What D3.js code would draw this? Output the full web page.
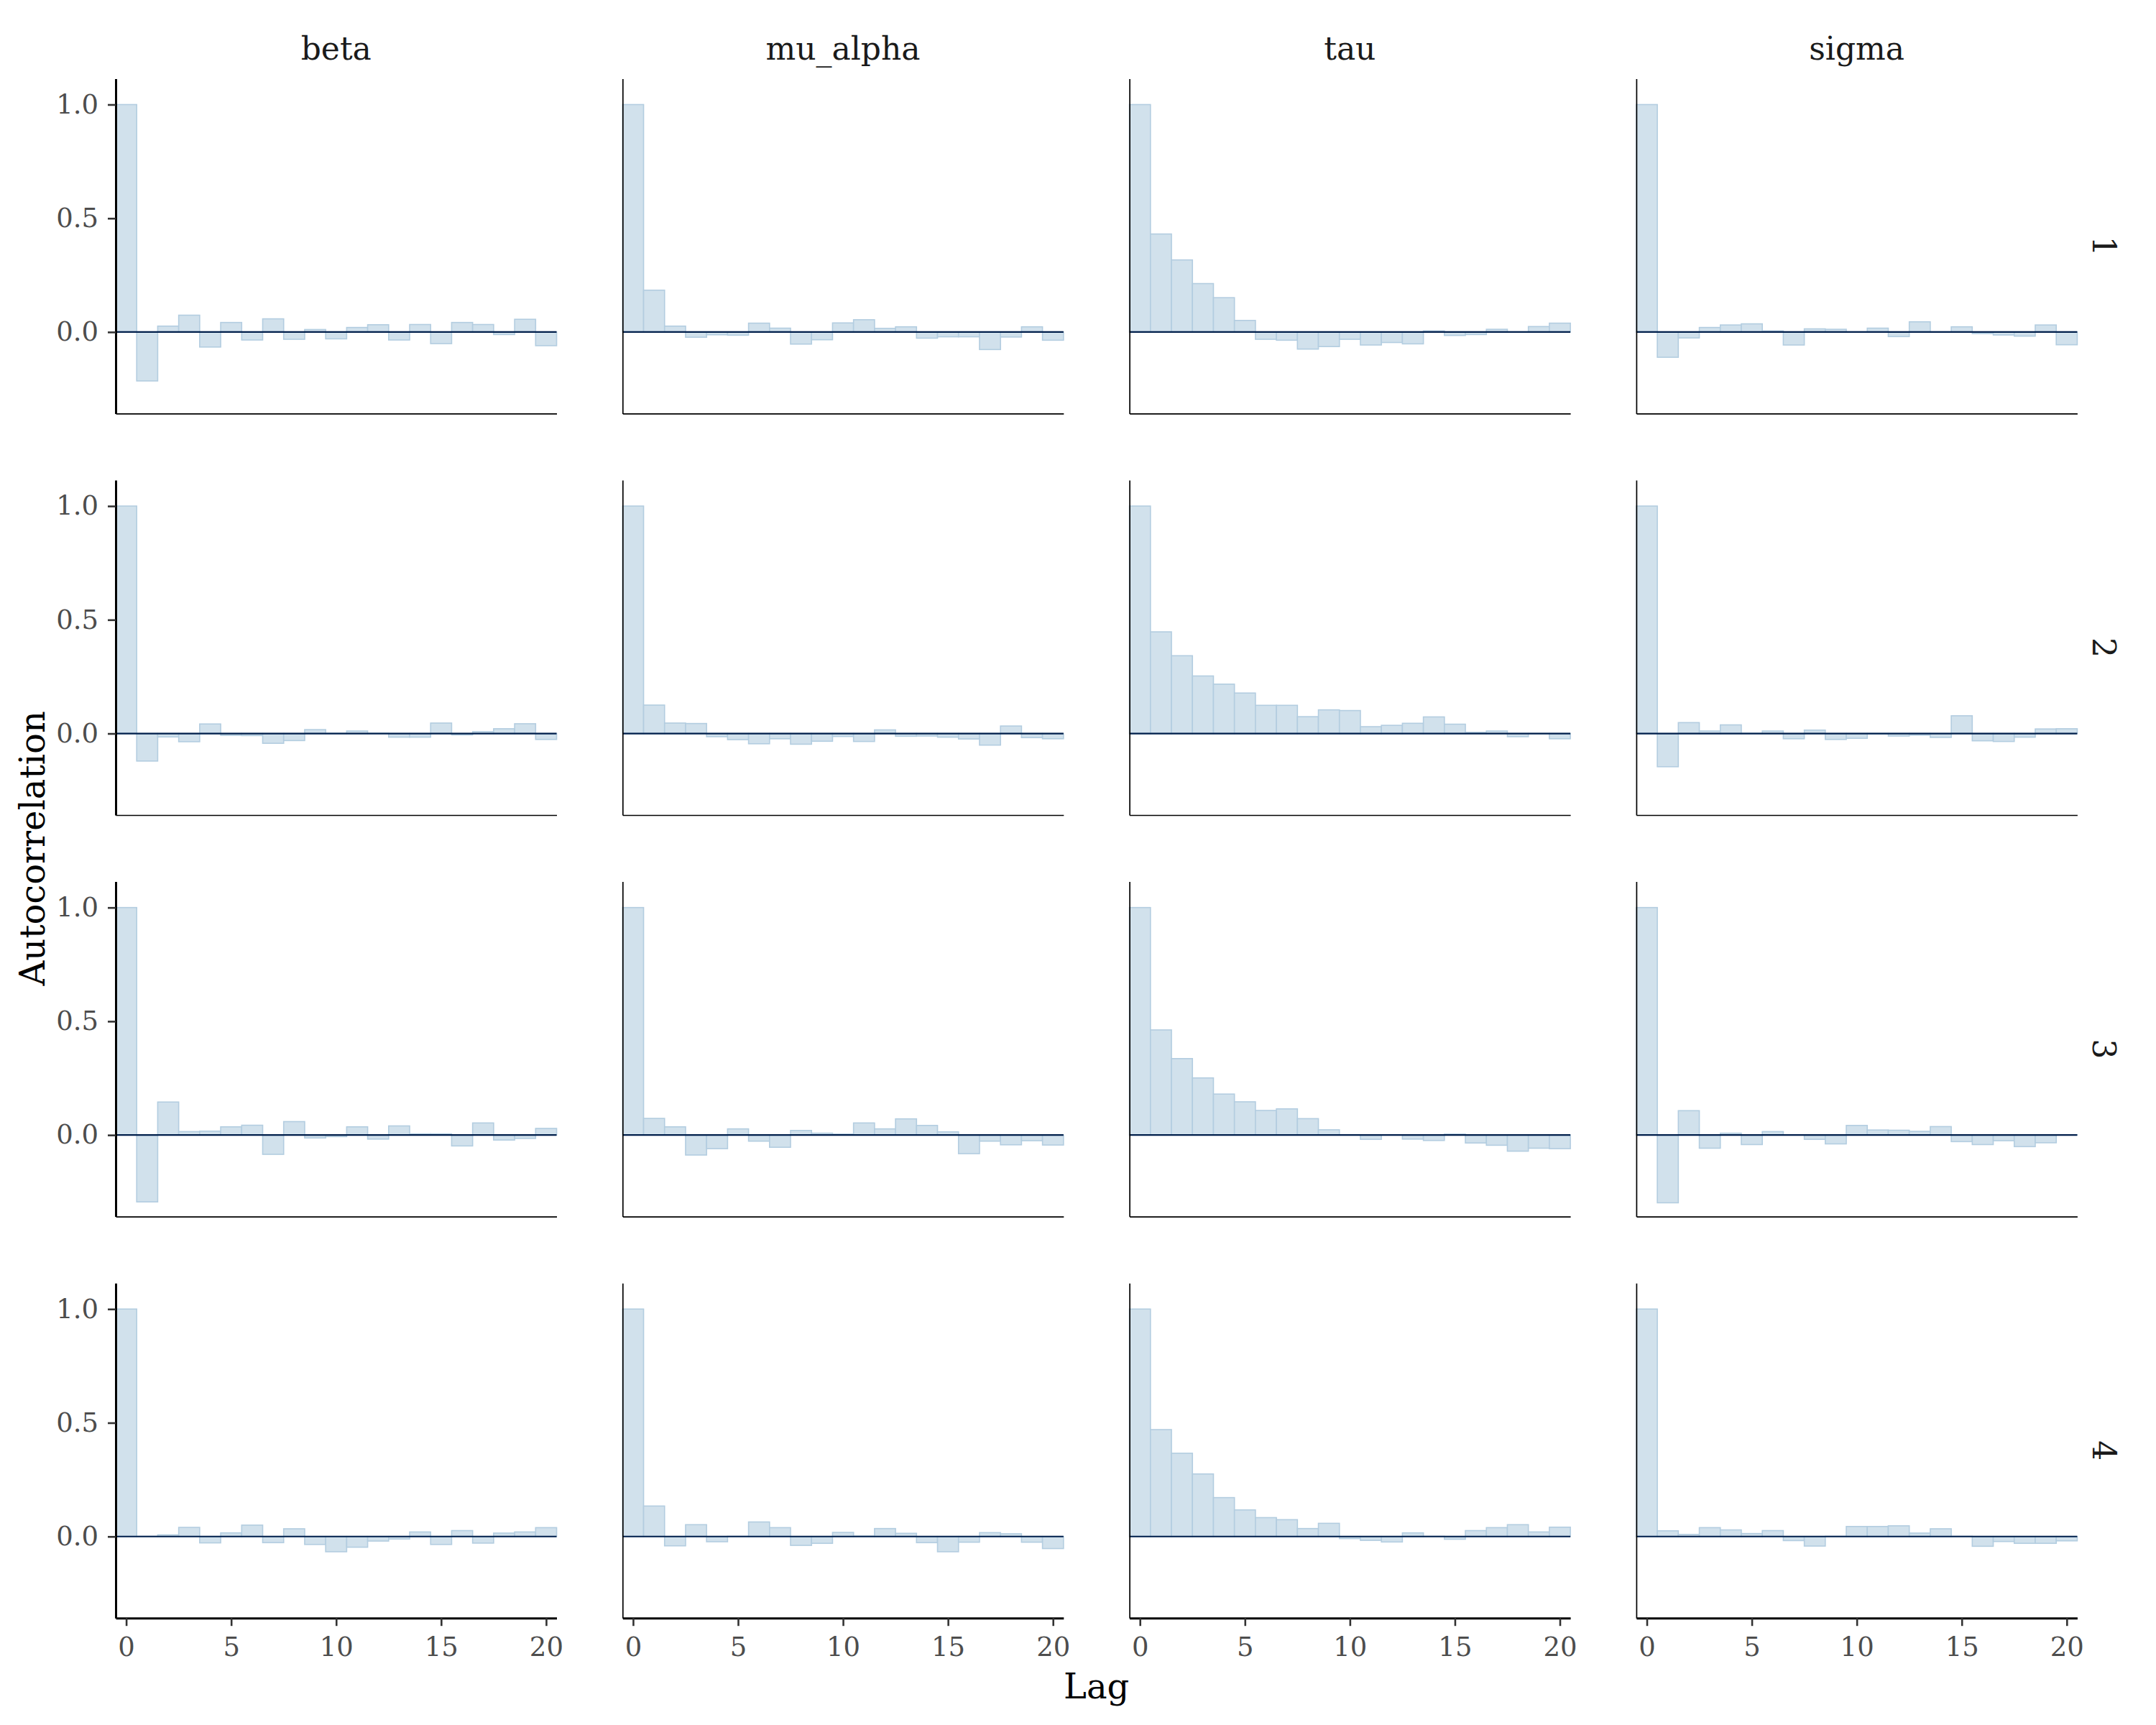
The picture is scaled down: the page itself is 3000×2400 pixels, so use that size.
<!DOCTYPE html>
<html>
<head>
<meta charset="utf-8">
<script src="https://cdn.jsdelivr.net/npm/d3@7/dist/d3.min.js"></script>
<style>
  html, body { margin: 0; padding: 0; background: #ffffff; }
  svg { display: block; }
</style>
</head>
<body>
<svg id="chart" width="3000" height="2400"></svg>
<script>
// ---------------- data ----------------
const parameters = ["beta", "mu_alpha", "tau", "sigma"];
const chains = ["1", "2", "3", "4"];
const lags = d3.range(0, 21);
const yTickValues = [0, 0.5, 1.0];
const xTickValues = [0, 5, 10, 15, 20];
const xTitle = "Lag";
const yTitle = "Autocorrelation";

// autocorrelation per chain (rows) for each parameter (columns), lags 0..20
const acf_beta_1 = [1, -0.215, 0.026, 0.074, -0.066, 0.042, -0.035, 0.058, -0.032, 0.011, -0.030, 0.020, 0.032, -0.035, 0.033, -0.051, 0.042, 0.033, -0.011, 0.056, -0.060];
const acf_beta_2 = [1, -0.121, -0.015, -0.036, 0.042, -0.008, -0.009, -0.043, -0.031, 0.017, 0.001, 0.011, 0.001, -0.016, -0.016, 0.046, -0.006, 0.008, 0.021, 0.043, -0.026];
const acf_beta_3 = [1, -0.294, 0.145, 0.015, 0.017, 0.036, 0.043, -0.085, 0.059, -0.013, -0.007, 0.036, -0.018, 0.040, 0.005, 0.005, -0.048, 0.053, -0.022, -0.015, 0.029];
const acf_beta_4 = [1, 0.001, 0.007, 0.040, -0.028, 0.016, 0.050, -0.027, 0.034, -0.035, -0.067, -0.047, -0.020, -0.011, 0.020, -0.035, 0.026, -0.029, 0.015, 0.020, 0.039];

const acf_mu_alpha_1 = [1, 0.184, 0.026, -0.023, -0.012, -0.014, 0.039, 0.017, -0.053, -0.034, 0.040, 0.054, 0.016, 0.023, -0.027, -0.021, -0.021, -0.077, -0.022, 0.023, -0.036];
const acf_mu_alpha_2 = [1, 0.125, 0.046, 0.044, -0.014, -0.027, -0.045, -0.023, -0.047, -0.034, -0.013, -0.035, 0.016, -0.012, -0.011, -0.016, -0.024, -0.051, 0.033, -0.018, -0.023];
const acf_mu_alpha_3 = [1, 0.073, 0.036, -0.088, -0.060, 0.027, -0.027, -0.054, 0.020, 0.008, 0.004, 0.053, 0.027, 0.071, 0.042, 0.014, -0.082, -0.027, -0.043, -0.025, -0.044];
const acf_mu_alpha_4 = [1, 0.134, -0.041, 0.052, -0.023, 0.001, 0.064, 0.039, -0.039, -0.030, 0.018, 0.002, 0.035, 0.014, -0.027, -0.067, -0.025, 0.017, 0.012, -0.025, -0.053];

const acf_tau_1 = [1, 0.431, 0.317, 0.213, 0.151, 0.051, -0.032, -0.036, -0.075, -0.064, -0.032, -0.057, -0.046, -0.052, 0.005, -0.015, -0.011, 0.012, 0.001, 0.024, 0.039];
const acf_tau_2 = [1, 0.447, 0.342, 0.253, 0.217, 0.178, 0.124, 0.124, 0.074, 0.104, 0.101, 0.030, 0.036, 0.045, 0.073, 0.041, 0.005, 0.011, -0.014, -0.001, -0.023];
const acf_tau_3 = [1, 0.462, 0.336, 0.251, 0.180, 0.146, 0.108, 0.115, 0.072, 0.023, 0.001, -0.019, 0.001, -0.018, -0.024, 0.004, -0.035, -0.045, -0.071, -0.058, -0.060];
const acf_tau_4 = [1, 0.470, 0.366, 0.275, 0.171, 0.117, 0.083, 0.074, 0.035, 0.058, -0.009, -0.017, -0.024, 0.016, 0.001, -0.012, 0.026, 0.039, 0.052, 0.020, 0.041];

const acf_sigma_1 = [1, -0.111, -0.026, 0.020, 0.031, 0.036, 0.005, -0.057, 0.014, 0.012, 0.001, 0.017, -0.020, 0.045, 0.001, 0.023, -0.007, -0.013, -0.018, 0.031, -0.056];
const acf_sigma_2 = [1, -0.146, 0.048, 0.011, 0.038, 0.001, 0.011, -0.023, 0.015, -0.026, -0.021, -0.002, -0.011, -0.007, -0.017, 0.078, -0.032, -0.035, -0.016, 0.020, 0.021];
const acf_sigma_3 = [1, -0.298, 0.107, -0.058, 0.008, -0.042, 0.015, 0.001, -0.019, -0.039, 0.042, 0.022, 0.021, 0.016, 0.037, -0.029, -0.042, -0.025, -0.051, -0.034, 0.001];
const acf_sigma_4 = [1, 0.025, 0.009, 0.039, 0.029, 0.013, 0.026, -0.018, -0.042, 0.001, 0.044, 0.044, 0.047, 0.015, 0.034, 0.001, -0.043, -0.022, -0.030, -0.030, -0.019];

// table built from the arrays above: acfTable[param][chainIndex] = values
const acfTable = {
  beta: [acf_beta_1, acf_beta_2, acf_beta_3, acf_beta_4],
  mu_alpha: [acf_mu_alpha_1, acf_mu_alpha_2, acf_mu_alpha_3, acf_mu_alpha_4],
  tau: [acf_tau_1, acf_tau_2, acf_tau_3, acf_tau_4],
  sigma: [acf_sigma_1, acf_sigma_2, acf_sigma_3, acf_sigma_4]
};

// ---------------- layout ----------------
const FONT = "'DejaVu Serif', 'Liberation Serif', serif";
const panelLeft0 = 161, panelStepX = 705.3, panelW = 613.5;
const panelTop0 = 109.4, panelStepY = 558.6, panelH = 466;

const colors = {
  fill: "#d1e1ec",
  outline: "#b3cde0",
  zero: "#011f4b",
  axis: "#000000",
  tick: "#333333",
  tickText: "#4d4d4d",
  title: "#000000",
  strip: "#1a1a1a"
};

const svg = d3.select("#chart");
svg.append("rect").attr("width", 3000).attr("height", 2400).attr("fill", "#ffffff");

const x = d3.scaleLinear().domain([-0.5, 20.5]).range([0, panelW]);
const y = d3.scaleLinear().domain([-0.3585, 1.114]).range([panelH, 0]);

parameters.forEach((param, ci) => {
  chains.forEach((chain, ri) => {
    const values = acfTable[param][ri];
    const data = lags.map((lag, i) => ({ lag: lag, value: values[i] }));
    const g = svg.append("g")
      .attr("transform", `translate(${panelLeft0 + ci * panelStepX},${panelTop0 + ri * panelStepY})`);

    // bars
    g.selectAll("rect.bar")
      .data(data)
      .join("rect")
      .attr("class", "bar")
      .attr("x", d => x(d.lag - 0.5))
      .attr("width", d => x(d.lag + 0.5) - x(d.lag - 0.5))
      .attr("y", d => y(Math.max(0, d.value)))
      .attr("height", d => Math.abs(y(d.value) - y(0)))
      .attr("fill", colors.fill)
      .attr("stroke", colors.outline)
      .attr("stroke-width", 1.6);

    // zero line
    g.append("line")
      .attr("x1", x(-0.5)).attr("x2", x(20.5))
      .attr("y1", y(0)).attr("y2", y(0))
      .attr("stroke", colors.zero)
      .attr("stroke-width", 2.2);

    // y axis
    const isLeft = ci === 0;
    const yAxis = d3.axisLeft(y)
      .tickValues(isLeft ? yTickValues : [])
      .tickFormat(d3.format(".1f"))
      .tickSize(11)
      .tickSizeOuter(0)
      .tickPadding(13);
    const ya = g.append("g").call(yAxis);
    ya.select(".domain").attr("stroke", colors.axis).attr("stroke-width", isLeft ? 3 : 1.7);
    ya.selectAll(".tick line").attr("stroke", colors.tick).attr("stroke-width", 2.6);
    ya.selectAll(".tick text")
      .attr("font-family", FONT).attr("font-size", 37).attr("fill", colors.tickText);

    // x axis
    const isBottom = ri === chains.length - 1;
    const xAxis = d3.axisBottom(x)
      .tickValues(isBottom ? xTickValues : [])
      .tickFormat(d3.format("d"))
      .tickSize(11)
      .tickSizeOuter(0)
      .tickPadding(16);
    const xa = g.append("g").attr("transform", `translate(0,${panelH})`).call(xAxis);
    xa.select(".domain").attr("stroke", colors.axis).attr("stroke-width", isBottom ? 3 : 1.7);
    xa.selectAll(".tick line").attr("stroke", colors.tick).attr("stroke-width", 2.6);
    xa.selectAll(".tick text")
      .attr("font-family", FONT).attr("font-size", 37).attr("fill", colors.tickText);

    // row strips (right side)
    if (ci === parameters.length - 1) {
      svg.append("text")
        .attr("transform", `translate(2927,${panelTop0 + ri * panelStepY + panelH / 2}) rotate(90)`)
        .attr("text-anchor", "middle")
        .attr("dominant-baseline", "central")
        .attr("font-family", FONT).attr("font-size", 44)
        .attr("fill", colors.strip)
        .text(chain);
    }
  });

  // column strips (top)
  svg.append("text")
    .attr("x", panelLeft0 + ci * panelStepX + panelW / 2)
    .attr("y", 83)
    .attr("text-anchor", "middle")
    .attr("font-family", FONT).attr("font-size", 44)
    .attr("fill", colors.strip)
    .text(param);
});

// axis titles
const gridLeft = panelLeft0;
const gridRight = panelLeft0 + 3 * panelStepX + panelW;
const gridTop = panelTop0;
const gridBottom = panelTop0 + 3 * panelStepY + panelH;

svg.append("text")
  .attr("x", (gridLeft + gridRight) / 2)
  .attr("y", 2363)
  .attr("text-anchor", "middle")
  .attr("font-family", FONT).attr("font-size", 48)
  .attr("fill", colors.title)
  .text(xTitle);

svg.append("text")
  .attr("transform", `translate(62,${(gridTop + gridBottom) / 2}) rotate(-90)`)
  .attr("text-anchor", "middle")
  .attr("font-family", FONT).attr("font-size", 48)
  .attr("fill", colors.title)
  .text(yTitle);
</script>
</body>
</html>
